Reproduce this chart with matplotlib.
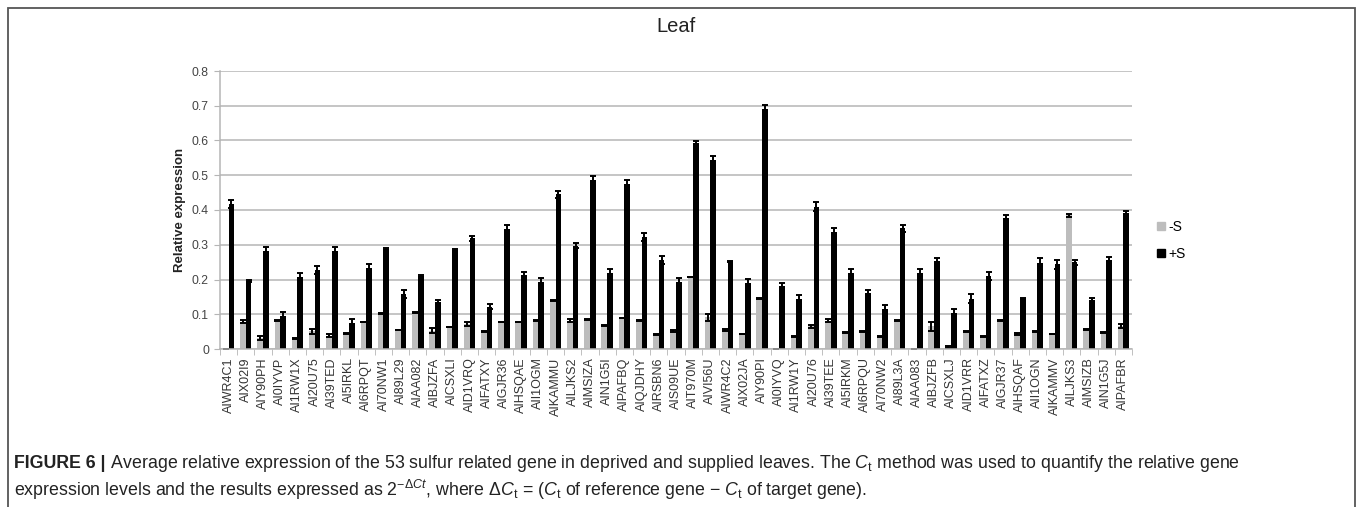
import numpy as np
import matplotlib
matplotlib.use("Agg")
import matplotlib.pyplot as plt
from matplotlib.lines import Line2D
from matplotlib.patches import Rectangle

plt.rcParams['font.family'] = ['Liberation Sans', 'DejaVu Sans']
plt.rcParams['mathtext.fontset'] = 'custom'
plt.rcParams['mathtext.rm'] = 'Liberation Sans'
plt.rcParams['mathtext.it'] = 'Liberation Sans:italic'
plt.rcParams['mathtext.bf'] = 'Liberation Sans:bold'

# gene ids
genes = ['AIWR4C1', 'AIX02I9', 'AIY90PH', 'AI0IYVP', 'AI1RW1X', 'AI20U75', 'AI39TED',
         'AI5IRKL', 'AI6RPQT', 'AI70NW1', 'AI89L29', 'AIAA082', 'AIBJZFA', 'AICSXLI',
         'AID1VRQ', 'AIFATXY', 'AIGJR36', 'AIHSQAE', 'AII1OGM', 'AIKAMMU', 'AILJKS2',
         'AIMSIZA', 'AIN1G5I', 'AIPAFBQ', 'AIQJDHY', 'AIRSBN6', 'AIS09UE', 'AIT970M',
         'AIVI56U', 'AIWR4C2', 'AIX02JA', 'AIY90PI', 'AI0IYVQ', 'AI1RW1Y', 'AI20U76',
         'AI39TEE', 'AI5IRKM', 'AI6RPQU', 'AI70NW2', 'AI89L3A', 'AIAA083', 'AIBJZFB',
         'AICSXLJ', 'AID1VRR', 'AIFATXZ', 'AIGJR37', 'AIHSQAF', 'AII1OGN', 'AIKAMMV',
         'AILJKS3', 'AIMSIZB', 'AIN1G5J', 'AIPAFBR']

# -S (deprived)
minus_s = [0.0, 0.079, 0.032, 0.082, 0.030, 0.051, 0.038, 0.044, 0.078, 0.103,
           0.055, 0.106, 0.053, 0.063, 0.072, 0.051, 0.078, 0.078, 0.082, 0.140,
           0.082, 0.084, 0.068, 0.089, 0.082, 0.041, 0.052, 0.207, 0.091, 0.055,
           0.043, 0.146, 0.0, 0.036, 0.065, 0.082, 0.048, 0.051, 0.036, 0.082,
           0.0, 0.065, 0.006, 0.051, 0.036, 0.082, 0.044, 0.051, 0.043, 0.385,
           0.057, 0.048, 0.066]
minus_err = [0.0, 0.005, 0.006, 0.002, 0.001, 0.007, 0.004, 0.001, 0.001, 0.001,
             0.001, 0.001, 0.006, 0.001, 0.005, 0.001, 0.001, 0.001, 0.001, 0.001,
             0.004, 0.001, 0.001, 0.001, 0.001, 0.001, 0.004, 0.001, 0.010, 0.003,
             0.001, 0.001, 0.0, 0.001, 0.005, 0.003, 0.001, 0.001, 0.001, 0.001,
             0.0, 0.012, 0.004, 0.001, 0.001, 0.001, 0.003, 0.001, 0.001, 0.004,
             0.001, 0.001, 0.005]

# +S (supplied)
plus_s = [0.417, 0.196, 0.282, 0.096, 0.208, 0.228, 0.282, 0.075, 0.233, 0.288,
          0.158, 0.209, 0.136, 0.284, 0.318, 0.122, 0.346, 0.212, 0.194, 0.445,
          0.297, 0.486, 0.218, 0.475, 0.323, 0.256, 0.194, 0.594, 0.543, 0.252,
          0.190, 0.692, 0.181, 0.144, 0.410, 0.338, 0.218, 0.161, 0.114, 0.347,
          0.218, 0.252, 0.103, 0.145, 0.211, 0.376, 0.146, 0.247, 0.244, 0.249,
          0.140, 0.256, 0.390]
plus_err = [0.011, 0.002, 0.012, 0.010, 0.011, 0.012, 0.012, 0.011, 0.011, 0.002,
            0.011, 0.004, 0.006, 0.004, 0.007, 0.007, 0.012, 0.010, 0.011, 0.011,
            0.007, 0.011, 0.011, 0.011, 0.012, 0.011, 0.011, 0.004, 0.013, 0.002,
            0.012, 0.011, 0.010, 0.012, 0.012, 0.011, 0.012, 0.010, 0.013, 0.011,
            0.011, 0.010, 0.012, 0.014, 0.011, 0.011, 0.002, 0.014, 0.013, 0.008,
            0.008, 0.008, 0.008]

W, H = 1358, 507
fig = plt.figure(figsize=(W / 100, H / 100), dpi=100)
ax = fig.add_axes([220 / W, 1 - 349 / H, (1132 - 220) / W, (349 - 71) / H])

x = np.arange(len(genes))
bw = 0.33
ebar = dict(ecolor='black', elinewidth=1.4, capsize=2.2, capthick=1.4)
ax.bar(x - bw / 2, minus_s, bw, color='#bdbdbd', yerr=minus_err, error_kw=ebar, zorder=2)
ax.bar(x + bw / 2, plus_s, bw, color='black', yerr=plus_err, error_kw=ebar, zorder=2)

ax.set_xlim(-0.5, len(genes) - 0.5)
ax.set_ylim(0, 0.8)
ax.set_yticks(np.arange(0, 0.81, 0.1))
ax.set_yticklabels(['0'] + [f'{v:.1f}' for v in np.arange(0.1, 0.81, 0.1)])
ax.yaxis.grid(True, color='#b5b5b5', linewidth=1.1, zorder=0)
ax.set_axisbelow(True)
ax.tick_params(axis='y', length=4, color='#b5b5b5', labelsize=8.8, labelcolor='#444444', pad=4)

ax.set_xticks(x)
ax.set_xticklabels(genes, rotation=90, fontsize=9, color='#333333')
ax.set_xticks(np.arange(-0.5, len(genes), 1), minor=True)
ax.tick_params(axis='x', which='major', length=0, pad=6)
ax.tick_params(axis='x', which='minor', length=4, color='#b5b5b5')

for side in ['top', 'right']:
    ax.spines[side].set_visible(False)
for side in ['left', 'bottom']:
    ax.spines[side].set_color('#b5b5b5')
    ax.spines[side].set_linewidth(1.1)

ax.set_ylabel('Relative expression', fontsize=9.5, fontweight='bold', color='#222222', labelpad=4)
fig.text(676 / W, 1 - 26 / H, 'Leaf', ha='center', va='center', fontsize=14.5, color='#222222')

handles = [Line2D([], [], marker='s', linestyle='', color='#bdbdbd', markersize=5.5),
           Line2D([], [], marker='s', linestyle='', color='black', markersize=5.5)]
fig.legend(handles, ['-S', '+S'], loc='upper left', bbox_to_anchor=(1150 / W, 1 - 213 / H),
           frameon=False, fontsize=10, handlelength=0.6, handletextpad=0.2,
           labelspacing=0.95, borderpad=0)

# outer frame
fig.add_artist(Rectangle((8 / W, -0.05), (1355 - 8) / W, 1.05 - 8 / H, transform=fig.transFigure,
                         fill=False, edgecolor='#555555', linewidth=1.3))

# caption
t1 = fig.text(14 / W, 1 - 463 / H, 'FIGURE 6 |', fontsize=12.8, fontweight='bold',
              color='#222222', va='center')
ax.annotate(' Average relative expression of the 53 sulfur related gene in deprived and supplied '
            'leaves. The $C_\\mathrm{t}$ method was used to quantify the relative gene',
            xy=(1, 0.5), xycoords=t1, va='center', ha='left', fontsize=12.8, color='#222222')
fig.text(14 / W, 1 - 490 / H,
         'expression levels and the results expressed as $2^{-\\Delta Ct}$, where '
         '$\\Delta C_\\mathrm{t}$ = ($C_\\mathrm{t}$ of reference gene $-$ $C_\\mathrm{t}$ of target gene).',
         fontsize=12.8, color='#222222', va='center')

fig.savefig('out.png', dpi=100)
